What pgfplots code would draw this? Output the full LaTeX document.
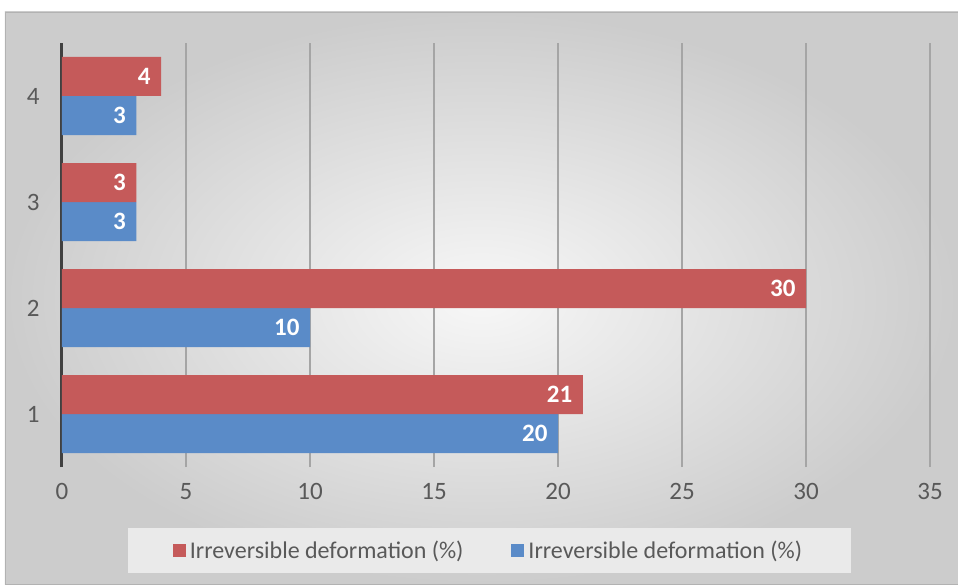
\documentclass[border=0pt]{standalone}
\usepackage{fontspec}
\setmainfont{Carlito}
\usepackage{pgfplots}
\pgfplotsset{compat=1.18}

\definecolor{barred}{RGB}{197,90,90}
\definecolor{barblue}{RGB}{90,139,200}
\definecolor{ticktxt}{RGB}{89,89,89}
\definecolor{gridc}{RGB}{165,165,165}
\definecolor{legbg}{RGB}{234,234,234}

\begin{document}
\begin{tikzpicture}
% page and chart panel
\path[use as bounding box] (-62pt,-117pt) rectangle (896pt,467pt);
\fill[white] (-62pt,-117pt) rectangle (896pt,467pt);
\shade[inner color=white!97!black, outer color=white!80!black, draw=white!70!black]
  (-57pt,-117pt) rectangle (896pt,455pt);

\begin{axis}[
  at={(0pt,0pt)}, anchor=south west,
  scale only axis, width=868pt, height=424pt,
  xbar, bar width=39pt,
  xmin=0, xmax=35, ymin=0.5, ymax=4.5,
  xtick={0,5,...,35}, ytick={1,2,3,4},
  xmajorgrids, major grid style={gridc, line width=2pt},
  axis lines*=left,
  x axis line style={draw=none},
  y axis line style={draw=black!75, line width=3pt},
  major tick length=0pt,
  /pgf/number format/assume math mode=true,
  tick label style={font=\fontsize{25}{28}\selectfont, text=ticktxt},
  xticklabel style={yshift=-13pt},
  yticklabel style={xshift=-19pt},
  nodes near coords,
  every node near coord/.append style={anchor=east, text=white,
    font=\bfseries\fontsize{25}{28}\selectfont, xshift=-7pt},
  reverse legend,
  legend columns=2,
  legend style={at={(0.4925,0)}, anchor=center, yshift=-83.5pt,
    draw=none, fill=legbg, text=ticktxt,
    font=\fontsize{24}{28}\selectfont,
    inner xsep=45pt, inner ysep=11pt,
    /tikz/every even column/.append style={column sep=44pt},
    nodes={inner xsep=4pt}},
]
\addplot[fill=barblue, draw=none, bar shift=-19.5pt,
  legend image code/.code={\fill[barblue] (0pt,-6.5pt) rectangle (13pt,6.5pt);}]
  coordinates {(20,1) (10,2) (3,3) (3,4)};
\addlegendentry{Irreversible deformation (\%)}
\addplot[fill=barred, draw=none, bar shift=19.5pt,
  legend image code/.code={\fill[barred] (0pt,-6.5pt) rectangle (13pt,6.5pt);}]
  coordinates {(21,1) (30,2) (3,3) (4,4)};
\addlegendentry{Irreversible deformation (\%)}
\end{axis}
\end{tikzpicture}
\end{document}
